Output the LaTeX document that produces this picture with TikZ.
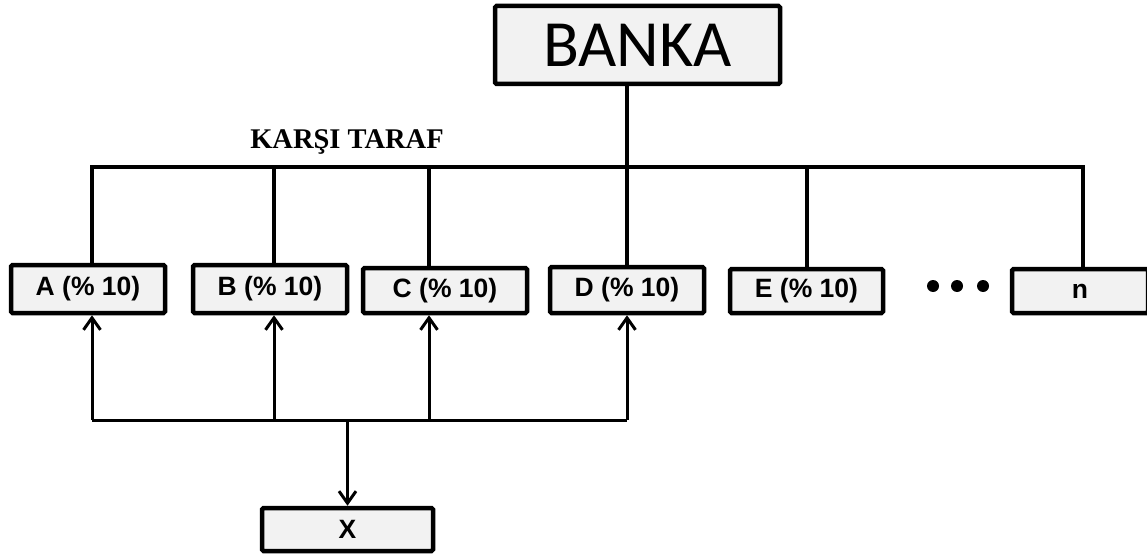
\documentclass[tikz,border=0pt]{standalone}
\usepackage{fontspec}
\newfontfamily\boxfont{Liberation Sans}
\newfontfamily\bankfont{Carlito}
\newfontfamily\sidefont{Liberation Serif}
\usetikzlibrary{arrows.meta,positioning}
\definecolor{boxgray}{HTML}{F2F2F2}
\tikzset{
  party/.style={draw, line width=4.5pt, fill=boxgray, rounded corners=1.5pt, inner sep=0pt,
    font=\boxfont\bfseries\fontsize{26.5}{30}\selectfont},
  link/.style={line width=4pt},
  feed/.style={line width=3pt}
}

\begin{document}
\begin{tikzpicture}[x=1pt,y=-1pt,>={Straight Barb[length=12pt,width=17pt]}]
    \useasboundingbox (0,0) rectangle (1147,559);
    % Bank
    \node[party, minimum width=285pt, minimum height=78pt,
      font=\bankfont\fontsize{66}{74}\selectfont] (Ba) at (637.5,45) {BANKA};
    \node[font=\sidefont\bfseries\fontsize{28.5}{32}\selectfont, anchor=base] (side) at (347,148) {KARŞI TARAF};
    % Counterparties
    \node[party, minimum width=154pt, minimum height=48pt] (A) at (88,289) {A (\% 10)};
    \node[party, minimum width=154pt, minimum height=48pt] (B) at (270,289) {B (\% 10)};
    \node[party, minimum width=164pt, minimum height=45pt] (C) at (445,290.5) {C (\% 10)};
    \node[party, minimum width=154pt, minimum height=46pt] (D) at (627,290) {D (\% 10)};
    \node[party, minimum width=153pt, minimum height=44pt] (E) at (806.5,291) {E (\% 10)};
    \node[party, minimum width=136pt, minimum height=44pt] (n) at (1080,291) {n};
    \foreach \dx in {933,957,983}
      \fill (\dx,286) circle [radius=6];
    % X
    \node[party, minimum width=171pt, minimum height=43pt] (X) at (347.5,529.5) {X};
    % Top bus
    \coordinate (top) at (0,167);
    \draw[link] (Ba.south -| D.north) -- (D.north);
    \draw[link] ([xshift=4pt]A.north) |- ([xshift=3pt]n.north |- top) -- ([xshift=3pt]n.north);
    \foreach \b/\s in {B/4pt, C/-16pt, E/0pt}
      \draw[link] ([xshift=\s]\b.north) -- ([xshift=\s]\b.north |- top);
    % Bottom bus
    \coordinate (low) at (0,420);
    \draw[feed] ([xshift=4pt]A.south |- low) -- (D.south |- low);
    \foreach \b/\s in {A/4pt, B/4pt, C/-16pt, D/0pt}
      \draw[feed,->] ([xshift=\s]\b.south |- low) -- ([xshift=\s]\b.south);
    \draw[feed,->] (X.north |- low) -- (X.north);
\end{tikzpicture}
\end{document}
